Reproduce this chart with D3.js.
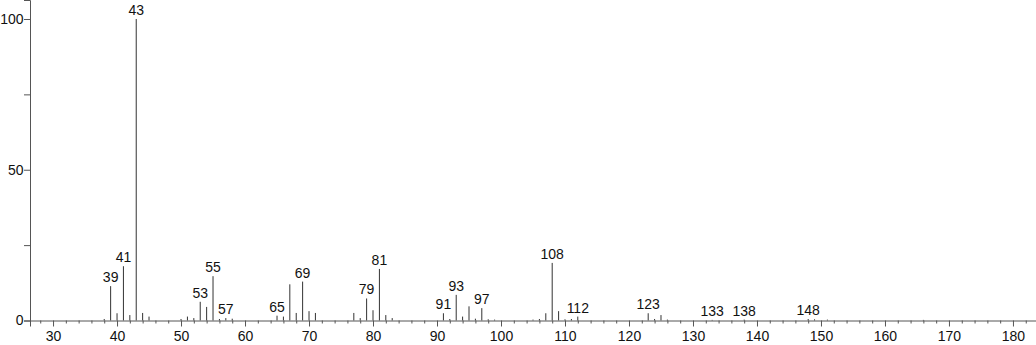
<!DOCTYPE html>
<html>
<head>
<meta charset="utf-8">
<script src="https://cdn.jsdelivr.net/npm/d3@7"></script>
<style>
  html, body { margin: 0; padding: 0; background: #fff; }
  svg { display: block; font-family: "Liberation Sans", Arial, sans-serif; }
</style>
</head>
<body>
<svg id="chart" width="1036" height="345"></svg>
<script>
// m/z values and relative intensities
const mz = [38, 39, 40, 41, 42, 43, 44, 45, 50, 51, 52, 53, 54, 55, 56, 57, 58,
  65, 66, 67, 68, 69, 70, 71, 77, 78, 79, 80, 81, 82, 83,
  91, 92, 93, 94, 95, 96, 97, 98, 99, 105, 106, 107, 108, 109, 110, 111, 112,
  123, 124, 125, 126, 133, 138, 148, 149, 151, 166];
const intensity = [0.5, 11.4, 2.4, 18.0, 1.8, 100, 2.5, 1.3, 0.5, 1.3, 0.8, 6.2, 4.5, 14.7, 0.5, 0.8, 0.6,
  1.6, 1.3, 12.0, 2.5, 12.9, 3.1, 2.5, 2.5, 0.8, 7.3, 3.4, 17.1, 1.8, 0.8,
  2.4, 0.5, 8.5, 1.3, 4.7, 0.6, 4.1, 0.4, 0.3, 0.3, 0.5, 2.4, 19.1, 3.1, 0.4, 0.5, 1.3,
  2.4, 0.5, 1.8, 0.3, 0.2, 0.3, 0.5, 0.4, 0.3, 0.2];
const labelled = [39, 41, 43, 53, 55, 57, 65, 69, 79, 81, 91, 93, 97, 108, 112, 123, 133, 138, 148];
const xTicks = d3.range(28, 184, 2);
const yTicks = [0, 25, 50, 75, 100];

const peaks = mz.map((m, i) => ({ mz: m, value: intensity[i] }));

const svg = d3.select("#chart");
const width = 1036, height = 345;
const axisColor = "#555";
const fontSize = "14px";

const x = d3.scaleLinear().domain([26.4, 183.6]).range([30, width]);
const y = d3.scaleLinear().domain([0, 106.3]).range([320.5, 0]);

// peaks
svg.append("g")
  .selectAll("line")
  .data(peaks)
  .join("line")
  .attr("x1", (d) => x(d.mz))
  .attr("x2", (d) => x(d.mz))
  .attr("y1", y(0))
  .attr("y2", (d) => y(d.value))
  .attr("stroke", "#333")
  .attr("stroke-width", 1);

// x axis
const xAxisG = svg.append("g")
  .attr("transform", `translate(0,${y(0)})`)
  .call(d3.axisBottom(x)
    .tickValues(xTicks)
    .tickSizeOuter(0)
    .tickSize(6)
    .tickPadding(5)
    .tickFormat((v) => (v % 10 === 0 ? v : "")));
xAxisG.selectAll(".tick line")
  .attr("y2", (v) => (v % 10 === 0 ? 6 : 3));

// y axis
const yAxisG = svg.append("g")
  .attr("transform", `translate(30,0)`)
  .call(d3.axisLeft(y)
    .tickValues(yTicks)
    .tickSizeOuter(0)
    .tickSize(6)
    .tickPadding(0.5)
    .tickFormat((v) => (v % 50 === 0 ? v : "")));

[xAxisG, yAxisG].forEach((g) => {
  g.select(".domain").attr("stroke", axisColor);
  g.selectAll(".tick line").attr("stroke", axisColor);
  g.selectAll(".tick text")
    .attr("fill", "#111")
    .style("font-size", fontSize)
    .style("font-family", "'Liberation Sans', Arial, sans-serif");
});

// peak labels
svg.append("g")
  .selectAll("text")
  .data(peaks.filter((d) => labelled.includes(d.mz)))
  .join("text")
  .attr("x", (d) => x(d.mz))
  .attr("y", (d) => y(d.value) - 4)
  .attr("text-anchor", "middle")
  .attr("fill", "#111")
  .style("font-size", fontSize)
  .text((d) => d.mz);
</script>
</body>
</html>
